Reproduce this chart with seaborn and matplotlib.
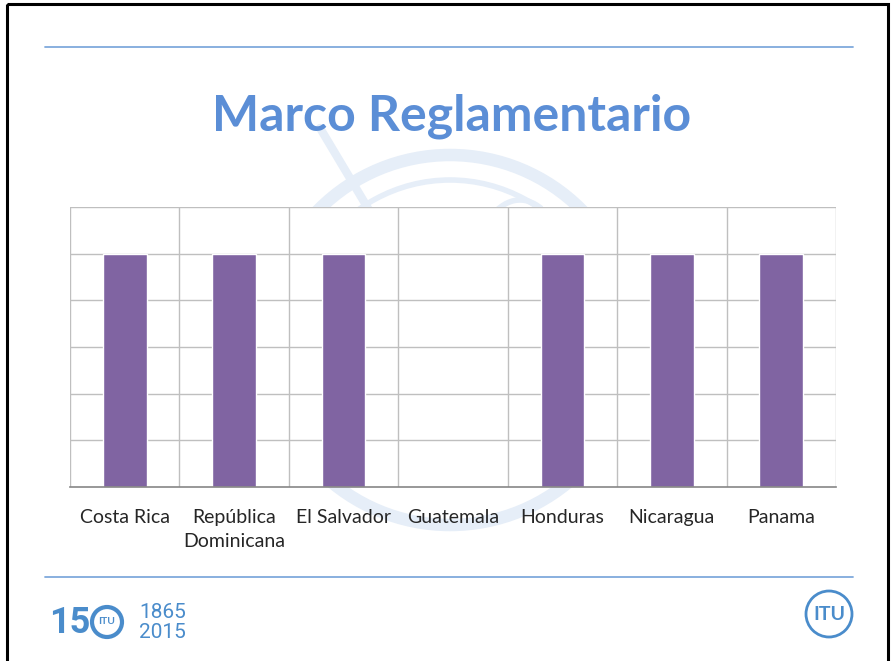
import numpy as np
import pandas as pd
import matplotlib
matplotlib.use("Agg")
import matplotlib.pyplot as plt
import seaborn as sns
from matplotlib.patches import Rectangle, Circle, Arc

# datos
paises = ["Costa Rica", "República\nDominicana", "El Salvador", "Guatemala",
          "Honduras", "Nicaragua", "Panama"]
valores = [5, 5, 5, 0, 5, 5, 5]
titulo = "Marco Reglamentario"

df = pd.DataFrame({"pais": paises, "valor": valores})

sns.set_style("white")
plt.rcParams['font.family'] = ['Lato', 'DejaVu Sans']

W, H = 892, 661
fig = plt.figure(figsize=(W / 100, H / 100), dpi=100)

# capa de fondo en pixeles (marco, lineas, marca de agua)
bg = fig.add_axes([0, 0, 1, 1], zorder=-1)
bg.set_xlim(0, W)
bg.set_ylim(H, 0)
bg.axis("off")

bg.add_patch(Rectangle((7, 4), 881, H + 10, fill=False, edgecolor="black", linewidth=2.2))
for yy in [47, 577]:
    bg.plot([45, 853], [yy, yy], color="#7FA9DC", linewidth=1.3)

# globo de fondo (eje y invertido -> angulos 180..360 arriba)
wm = "#E6EEF8"
bg.add_patch(Circle((450, 340), 185, fill=False, edgecolor=wm, linewidth=9))
bg.add_patch(Arc((450, 345), 320, 330, theta1=215, theta2=325, color=wm, linewidth=4))
bg.add_patch(Arc((520, 330), 120, 260, theta1=190, theta2=280, color=wm, linewidth=4))
bg.plot([320, 372], [128, 215], color=wm, linewidth=6)

# titulo
bg.text(452, 116, titulo, ha="center", va="center", fontsize=36,
        fontweight="bold", color="#5B8ED6")

# grafico
ax = fig.add_axes([70 / W, 1 - 487 / H, (836 - 70) / W, (487 - 207) / H])
ax.set_facecolor("white")
sns.barplot(data=df, x="pais", y="valor", color="#8064A2", width=0.4,
            saturation=1, ax=ax)
ax.set_xlim(-0.5, len(paises) - 0.5)
ax.set_ylim(0, 6)
ax.set_yticks(range(1, 6))
ax.set_yticklabels([])
ax.tick_params(axis="y", length=0)
ax.yaxis.grid(True, color="#BFBFBF", linewidth=1)
ax.set_xticks(np.arange(-0.5, len(paises), 1), minor=True)
ax.xaxis.grid(True, which="minor", color="#BFBFBF", linewidth=1)
ax.tick_params(axis="x", which="minor", length=6, color="#BFBFBF", width=1, direction="out")
ax.tick_params(axis="x", which="major", length=0, pad=16, labelsize=14)
ax.set_axisbelow(True)
for lab in ax.get_xticklabels():
    lab.set_linespacing(1.5)
ax.set_xlabel("")
ax.set_ylabel("")
for s in ["top", "right", "left"]:
    ax.spines[s].set_visible(False)
ax.spines["bottom"].set_color("#868686")
ax.spines["bottom"].set_linewidth(1.2)
ax.axhline(6, color="#BFBFBF", linewidth=1)

# logos ITU
fg = fig.add_axes([0, 0, 1, 1], zorder=5)
fg.set_xlim(0, W)
fg.set_ylim(H, 0)
fg.axis("off")
azul = "#4A8CCB"
fg.text(49, 623, "15", ha="left", va="center", fontsize=26, fontweight="bold",
        color=azul, family=["Roboto", "DejaVu Sans"])
fg.add_patch(Circle((107, 622), 15, fill=False, edgecolor=azul, linewidth=3))
fg.text(107, 622, "ITU", ha="center", va="center", fontsize=7.5, fontweight="bold", color=azul)
fg.text(139, 612, "1865", ha="left", va="center", fontsize=15, color=azul,
        family=["Roboto", "DejaVu Sans"])
fg.text(139, 632, "2015", ha="left", va="center", fontsize=15, color=azul,
        family=["Roboto", "DejaVu Sans"])

fg.add_patch(Circle((829, 614), 23, fill=False, edgecolor=azul, linewidth=2))
fg.text(829, 615, "ITU", ha="center", va="center", fontsize=14, fontweight="bold", color=azul)

fig.savefig("out.png", dpi=100, facecolor="white")
